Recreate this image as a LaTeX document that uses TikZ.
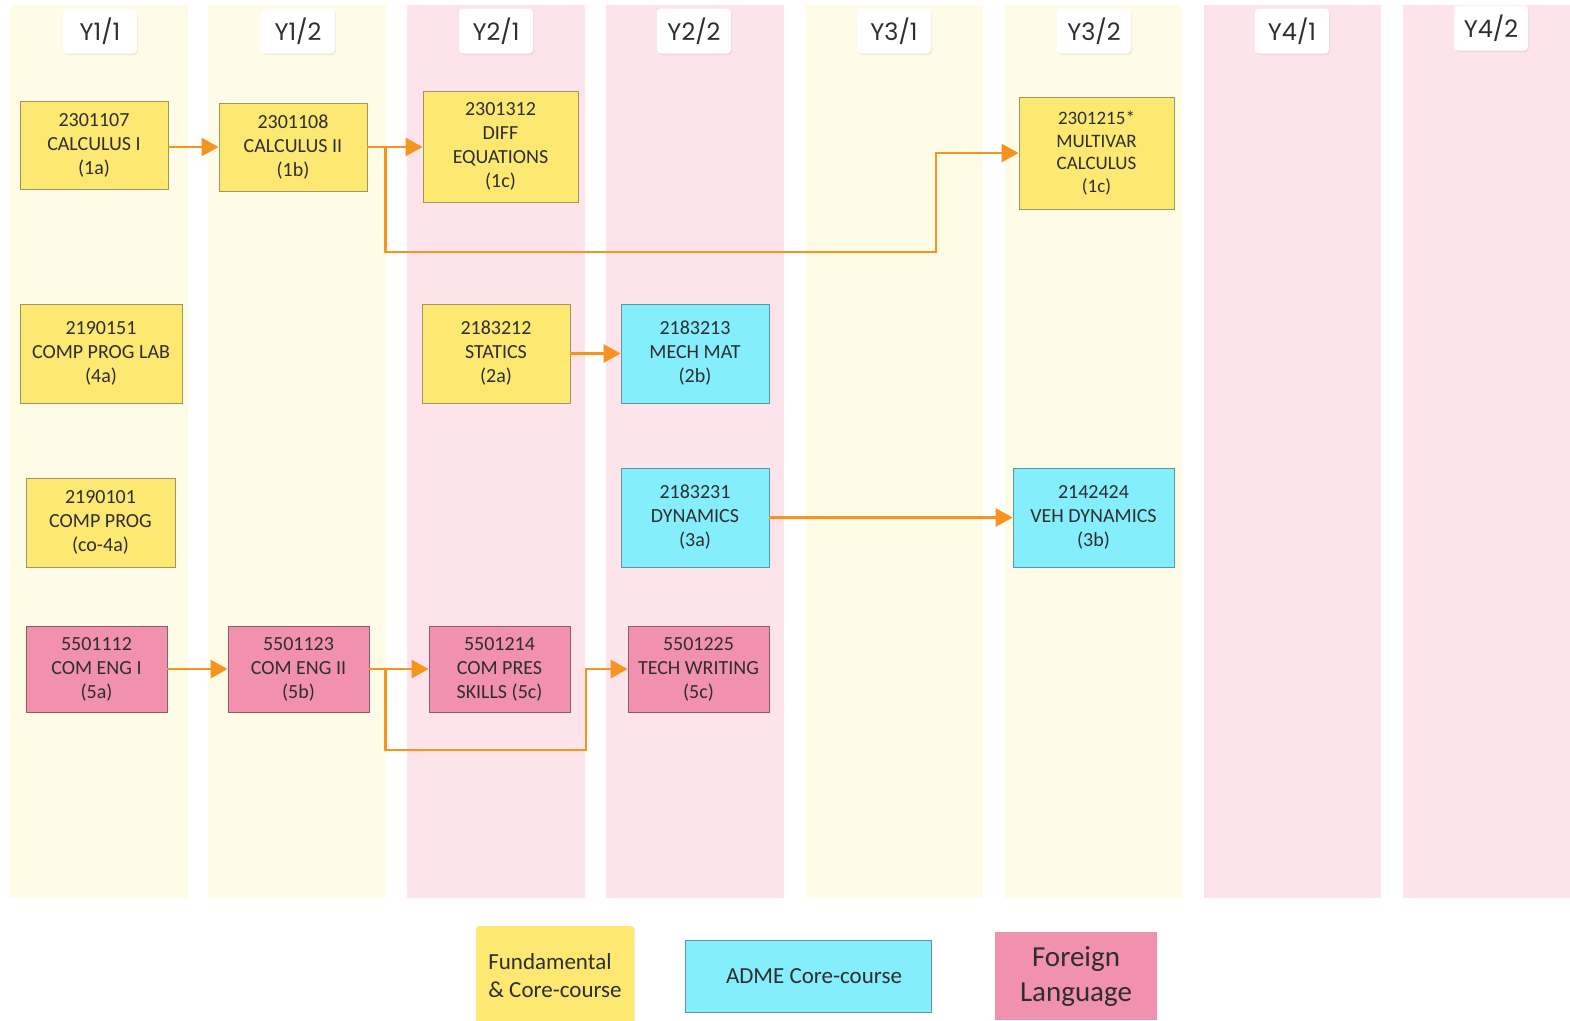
\documentclass[tikz,border=0pt]{standalone}
\usepackage{fontspec}
\setmainfont{Carlito}
\newfontfamily\hdrfont{Poppins}
\usetikzlibrary{arrows.meta,shadows}
\definecolor{colY}{HTML}{FEFBE6}
\definecolor{colP}{HTML}{FCE4EA}
\definecolor{nodeY}{HTML}{FDE872}
\definecolor{nodeC}{HTML}{84EEFC}
\definecolor{nodeP}{HTML}{F291AD}
\definecolor{bdrY}{HTML}{9E9660}
\definecolor{bdrC}{HTML}{5C97A6}
\definecolor{bdrP}{HTML}{8C5E6C}
\definecolor{arrO}{HTML}{F7941D}
\definecolor{txt}{HTML}{2E2E2E}
\begin{document}
\begin{tikzpicture}[x=1pt,y=-1pt,
 course/.style={draw, line width=0.8pt, align=center, inner sep=0pt, text=txt, font=\fontsize{20}{24}\selectfont},
 fund/.style={course, fill=nodeY, draw=bdrY},
 adme/.style={course, fill=nodeC, draw=bdrC},
 lang/.style={course, fill=nodeP, draw=bdrP},
 hdr/.style={fill=white, rounded corners=4pt, minimum width=74pt, minimum height=45pt, inner sep=0pt, font=\hdrfont\fontsize{24}{28}\selectfont, text=txt, drop shadow={opacity=0.12, shadow xshift=1pt, shadow yshift=-1.5pt}},
 arr/.style={draw=arrO, line width=2.8pt, -{Triangle[length=17pt,width=18pt]}},
 legend/.style={inner sep=0pt, text=txt},
 ]
\useasboundingbox (0,0) rectangle (1570,1020);
\fill[white] (0,0) rectangle (1570,1020);
% columns
\fill[colY] (10,5) rectangle (188,898);
\fill[colY] (208,5) rectangle (386,898);
\fill[colP] (407,5) rectangle (585,898);
\fill[colP] (606,5) rectangle (784,898);
\fill[colY] (806,5) rectangle (983,898);
\fill[colY] (1005,5) rectangle (1182,898);
\fill[colP] (1204,5) rectangle (1381,898);
\fill[colP] (1403,5) rectangle (1570,898);
% headers
\node[hdr] (h1) at (100,31) {Y1/1};
\node[hdr] (h2) at (298,31) {Y1/2};
\node[hdr] (h3) at (496,31) {Y2/1};
\node[hdr] (h4) at (694,31) {Y2/2};
\node[hdr] (h5) at (894,31) {Y3/1};
\node[hdr] (h6) at (1094,31) {Y3/2};
\node[hdr] (h7) at (1292,31) {Y4/1};
\node[hdr] (h8) at (1491,28) {Y4/2};
% courses
\node[fund, minimum width=148pt, minimum height=88pt] (n1a) at (94,145) {2301107\\CALCULUS I\\(1a)};
\node[fund, minimum width=148pt, minimum height=88pt] (n1b) at (293,147) {2301108\\CALCULUS II\\(1b)};
\node[fund, minimum width=155pt, minimum height=111pt] (n1c) at (500.5,146.5) {2301312\\DIFF\\EQUATIONS\\(1c)};
\node[fund, minimum width=155pt, minimum height=112pt, font=\fontsize{19}{22.7}\selectfont] (nmv) at (1096.5,153) {2301215*\\MULTIVAR\\CALCULUS\\(1c)};
\node[fund, minimum width=162pt, minimum height=99pt] (n4a) at (101,353.5) {2190151\\COMP PROG LAB\\(4a)};
\node[fund, minimum width=148pt, minimum height=99pt] (n2a) at (496,353.5) {2183212\\STATICS\\(2a)};
\node[adme, minimum width=148pt, minimum height=99pt] (n2b) at (695,353.5) {2183213\\MECH MAT\\(2b)};
\node[fund, minimum width=149pt, minimum height=89pt] (n4b) at (100.5,522.5) {2190101\\COMP PROG\\(co-4a)};
\node[adme, minimum width=148pt, minimum height=99pt] (n3a) at (695,517.5) {2183231\\DYNAMICS\\(3a)};
\node[adme, minimum width=161pt, minimum height=99pt] (n3b) at (1093.5,517.5) {2142424\\VEH DYNAMICS\\(3b)};
\node[lang, minimum width=141pt, minimum height=86pt] (n5a) at (96.5,669) {5501112\\COM ENG I\\(5a)};
\node[lang, minimum width=141pt, minimum height=86pt] (n5b) at (298.5,669) {5501123\\COM ENG II\\(5b)};
\node[lang, minimum width=141pt, minimum height=86pt] (n5c) at (499.5,669) {5501214\\COM PRES\\SKILLS (5c)};
\node[lang, minimum width=141pt, minimum height=86pt] (n5d) at (698.5,669) {5501225\\TECH WRITING\\(5c)};
% connectors
\draw[arr] (n1a.east |- n1b.west) -- (n1b.west);
\draw[arr] (n1b.east) -- (n1c.west |- n1b.east);
\coordinate (j1) at ([xshift=18pt]n1b.east);
\coordinate (k1) at (936,252);
\draw[arr] (j1) |- (k1) |- (nmv.west);
\draw[arr] (n2a.east) -- (n2b.west);
\draw[arr] (n3a.east) -- (n3b.west);
\draw[arr] (n5a.east) -- (n5b.west);
\draw[arr] (n5b.east) -- (n5c.west);
\coordinate (j5) at ([xshift=16pt]n5b.east);
\coordinate (k5) at (586,750);
\draw[arr] (j5) |- (k5) |- (n5d.west);
% legend
\node[legend, fill=nodeY, rounded corners=3pt, minimum width=158pt, minimum height=100pt, align=left, font=\fontsize{23}{28}\selectfont, drop shadow={opacity=0.10, shadow xshift=1pt, shadow yshift=-1pt}] (lg1) at (555,976) {Fundamental\\\& Core-course};
\node[legend, fill=nodeC, draw=bdrC, line width=0.8pt, minimum width=246pt, minimum height=72pt, font=\fontsize{23}{28}\selectfont] (lg2) at (808,976) {\hspace{12pt}ADME Core-course};
\node[legend, fill=nodeP, minimum width=162pt, minimum height=88pt, align=center, font=\fontsize{29}{35}\selectfont] (lg3) at (1076,976) {Foreign\\Language};
\end{tikzpicture}
\end{document}
